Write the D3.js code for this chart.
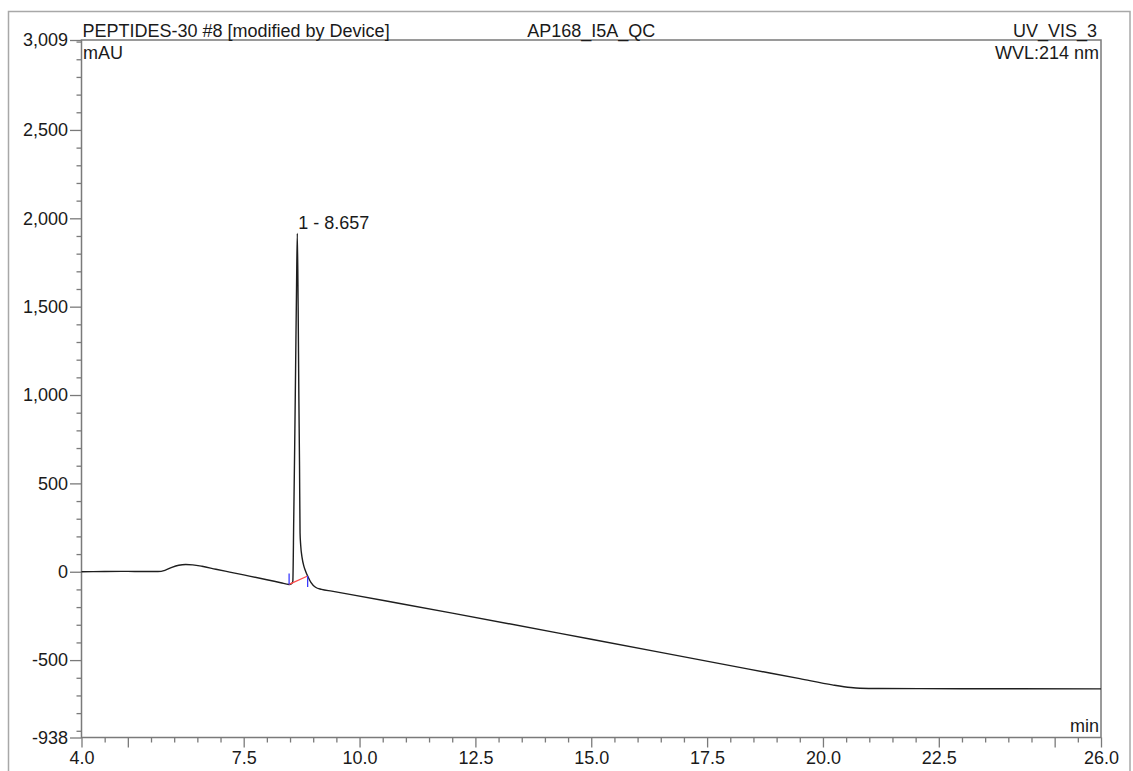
<!DOCTYPE html>
<html>
<head>
<meta charset="utf-8">
<script src="https://cdn.jsdelivr.net/npm/d3@7"></script>
<style>
  html, body { margin: 0; padding: 0; background: #fff; }
  svg { display: block; }
  text { font-family: "Liberation Sans", Arial, sans-serif; fill: #1a1a1a; }
</style>
</head>
<body>
<svg id="chart" width="1133" height="771"></svg>
<script>
// Chromatogram trace: retention time (min) and absorbance (mAU)
const traceTime = [
  4.0, 4.5, 5.0, 5.3, 5.65, 5.8, 5.95, 6.1, 6.25, 6.4, 6.6, 6.9, 7.2, 7.5, 8.0, 8.3, 8.48,
  8.54, 8.56, 8.58, 8.60, 8.62, 8.64, 8.657, 8.675, 8.69, 8.705, 8.716, 8.73, 8.76, 8.80,
  8.84, 8.88, 8.95, 9.05, 9.18, 9.4, 9.79, 10.84, 12.0, 15.0, 18.4, 19.5, 20.2, 20.6, 20.8,
  21.2, 23.0, 26.0
];
const traceMAU = [
  0, 1, 2, 1, 1, 8, 25, 37, 41, 39, 31, 14, -2, -18, -45, -62, -72,
  -66, -55, 300, 700, 1150, 1600, 1915, 1500, 1000, 600, 220, 150, 80, 30,
  0, -24, -60, -88, -100, -110, -128, -178, -234, -382, -551, -605, -640, -655, -659,
  -661, -662, -663
];

// Integrated peak: label, apex, baseline start and end points
const peakLabels = ["1 - 8.657"];
const peakApexTime = [8.657];
const peakApexMAU = [1915];
const baselineStart = [8.48, -72];
const baselineEnd = [8.88, -24];

// Axis ranges and tick labels
const xDomain = [4.0, 26.0];
const yDomain = [-938, 3009];
const xMajorTicks = [4.0, 5.0, 7.5, 10.0, 12.5, 15.0, 17.5, 20.0, 22.5, 25.0, 26.0];
const xLabelTicks = [4.0, 7.5, 10.0, 12.5, 15.0, 17.5, 20.0, 22.5, 26.0];
const xTickLabels = ["4.0", "7.5", "10.0", "12.5", "15.0", "17.5", "20.0", "22.5", "26.0"];
const yMajorTicks = [3009, 2500, 2000, 1500, 1000, 500, 0, -500, -938];
const yTickLabels = ["3,009", "2,500", "2,000", "1,500", "1,000", "500", "0", "-500", "-938"];

// Header texts
const headerLeft = "PEPTIDES-30 #8 [modified by Device]";
const headerCenter = "AP168_I5A_QC";
const headerRight = "UV_VIS_3";
const yUnit = "mAU";
const wavelength = "WVL:214 nm";
const xUnit = "min";

const W = 1133, H = 771;
const plot = { left: 81.5, right: 1101, top: 40, bottom: 737.5 };
const frameColor = "#7a7a7a";
const fontSize = 18;

const svg = d3.select("#chart");
svg.append("rect").attr("width", W).attr("height", H).attr("fill", "#fff");

// outer page frame (bottom edge runs off the page)
svg.append("rect")
  .attr("x", 8.5).attr("y", 11.5)
  .attr("width", 1130 - 8.5).attr("height", 800)
  .attr("fill", "none").attr("stroke", "#a8a8a8").attr("stroke-width", 1.5);

const x = d3.scaleLinear().domain(xDomain).range([plot.left, plot.right]);
const y = d3.scaleLinear().domain(yDomain).range([plot.bottom, plot.top]);

// plot box
svg.append("rect")
  .attr("x", plot.left).attr("y", plot.top)
  .attr("width", plot.right - plot.left).attr("height", plot.bottom - plot.top)
  .attr("fill", "none").attr("stroke", frameColor).attr("stroke-width", 1.5);

function styleAxis(g) {
  g.select(".domain").remove();
  g.selectAll(".tick line").attr("stroke", frameColor).attr("stroke-width", 1.3);
  g.selectAll(".tick text")
    .attr("font-size", fontSize)
    .attr("font-family", "Liberation Sans, Arial, sans-serif")
    .attr("fill", "#1a1a1a");
}

// y axis: minor ticks every 100 mAU, major ticks labelled
const yMinor = d3.range(-900, 3001, 100).filter(v => !yMajorTicks.includes(v));
svg.append("g").attr("transform", `translate(${plot.left},0)`)
  .call(d3.axisLeft(y).tickValues(yMinor).tickSize(5).tickFormat(""))
  .call(styleAxis);
svg.append("g").attr("transform", `translate(${plot.left},0)`)
  .call(d3.axisLeft(y).tickValues(yMajorTicks).tickSize(11.5).tickPadding(2)
    .tickFormat((d, i) => yTickLabels[i]))
  .call(styleAxis);

// x axis: minor ticks every 0.5 min, major ticks at 2.5 min steps and range ends
const xMinor = d3.range(4.5, 26, 0.5).filter(v => !xMajorTicks.includes(v));
svg.append("g").attr("transform", `translate(0,${plot.bottom})`)
  .call(d3.axisBottom(x).tickValues(xMinor).tickSize(5).tickFormat(""))
  .call(styleAxis);
svg.append("g").attr("transform", `translate(0,${plot.bottom})`)
  .call(d3.axisBottom(x).tickValues(xMajorTicks).tickSize(10).tickPadding(4)
    .tickFormat(d => {
      const i = xLabelTicks.indexOf(d);
      return i >= 0 ? xTickLabels[i] : "";
    }))
  .call(styleAxis);

// header and unit texts
svg.append("text").attr("x", plot.left + 1).attr("y", 36.5)
  .attr("font-size", fontSize).text(headerLeft);
svg.append("text").attr("x", (plot.left + plot.right) / 2).attr("y", 36.5)
  .attr("text-anchor", "middle").attr("font-size", fontSize).text(headerCenter);
svg.append("text").attr("x", plot.right - 4).attr("y", 36.5)
  .attr("text-anchor", "end").attr("font-size", fontSize).text(headerRight);
svg.append("text").attr("x", plot.left + 1.5).attr("y", 59)
  .attr("font-size", fontSize).text(yUnit);
svg.append("text").attr("x", plot.right - 2).attr("y", 59)
  .attr("text-anchor", "end").attr("font-size", fontSize).text(wavelength);
svg.append("text").attr("x", plot.right - 2).attr("y", 732)
  .attr("text-anchor", "end").attr("font-size", fontSize).text(xUnit);

// chromatogram trace
const trace = traceTime.map((t, i) => [t, traceMAU[i]]);
const line = d3.line().x(d => x(d[0])).y(d => y(d[1])).curve(d3.curveMonotoneX);
svg.append("path").datum(trace)
  .attr("d", line)
  .attr("fill", "none").attr("stroke", "#1e1e1e").attr("stroke-width", 1.4)
  .attr("stroke-linejoin", "round");

// peak integration baseline and delimiters
svg.append("line")
  .attr("x1", x(baselineStart[0])).attr("y1", y(baselineStart[1]))
  .attr("x2", x(baselineEnd[0])).attr("y2", y(baselineEnd[1]))
  .attr("stroke", "#ff4a4a").attr("stroke-width", 1.3);
svg.append("line")
  .attr("x1", x(baselineStart[0])).attr("y1", y(baselineStart[1]) - 11)
  .attr("x2", x(baselineStart[0])).attr("y2", y(baselineStart[1]))
  .attr("stroke", "#3b3bff").attr("stroke-width", 1.3);
svg.append("line")
  .attr("x1", x(baselineEnd[0])).attr("y1", y(baselineEnd[1]))
  .attr("x2", x(baselineEnd[0])).attr("y2", y(baselineEnd[1]) + 11)
  .attr("stroke", "#3b3bff").attr("stroke-width", 1.3);

// peak label at the apex
peakLabels.forEach((lab, i) => {
  svg.append("text")
    .attr("x", x(peakApexTime[i]) + 1)
    .attr("y", y(peakApexMAU[i]) - 4)
    .attr("font-size", fontSize).text(lab);
});
</script>
</body>
</html>
